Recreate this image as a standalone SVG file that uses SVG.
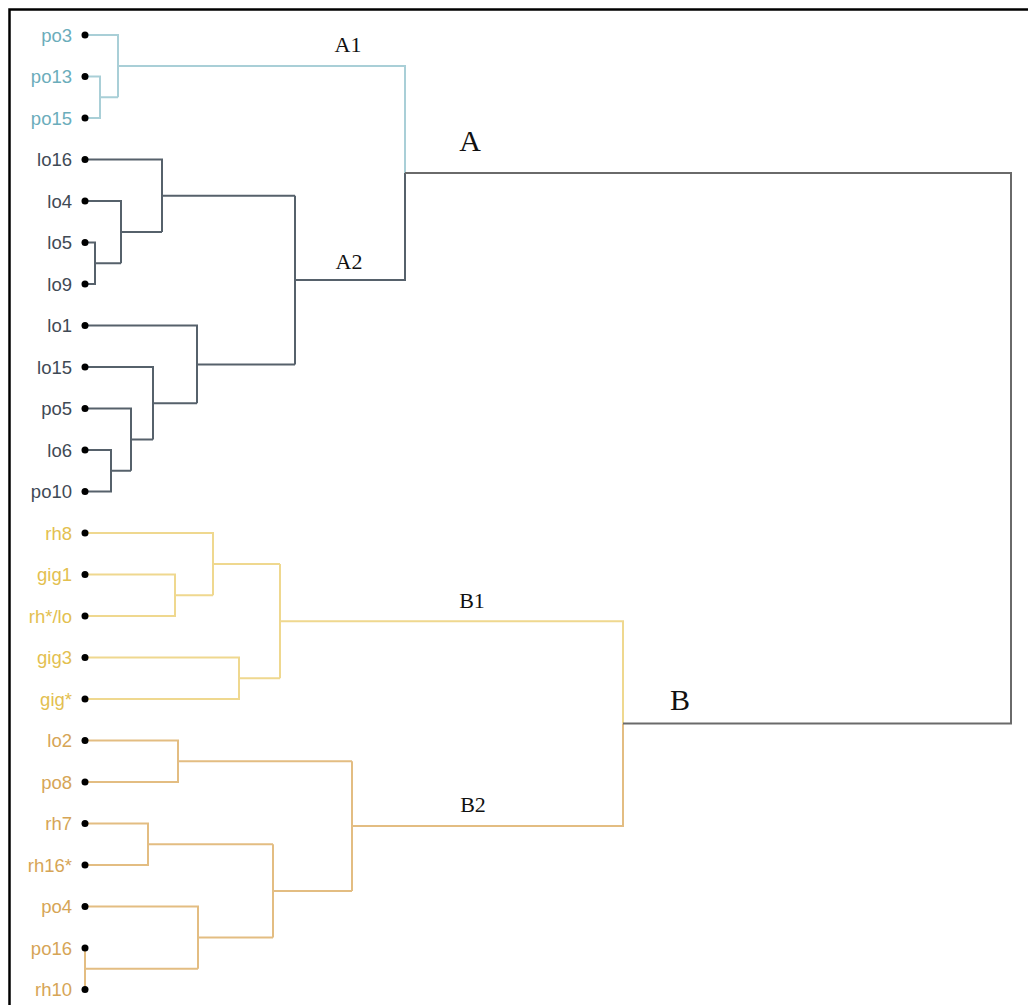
<svg xmlns="http://www.w3.org/2000/svg" width="1028" height="1005" viewBox="0 0 1028 1005">
<style>
.lbl{font-family:"Liberation Sans",Arial,sans-serif;font-size:18.5px;text-anchor:end}
.t1{fill:#6badbb}.t2{fill:#3f4a55}.t3{fill:#e3c04f}.t4{fill:#d6a556}
.big{font-family:"Liberation Serif","Times New Roman",serif;fill:#111;text-anchor:middle}
.e{fill:none;stroke-width:2}
.c1{stroke:#a9cfd7}.c2{stroke:#56616b}.c3{stroke:#efd88f}.c4{stroke:#e3bd82}.c0{stroke:#6a6a6a}
.dot{fill:#000}
</style>
<rect width="1028" height="1005" fill="#fff"/>
<path d="M9.5 1005 V9.5 H1028" fill="none" stroke="#000" stroke-width="2.5"/>
<g id="connectors">
<path class="e c1" d="M85 35 H118 V97.25 M85 76.5 H100 V118 H85 M100 97.25 H118 M118 66.1 H405 V173.1"/>
<path class="e c2" d="M85 242.5 H95 V284 H85 M95 263.25 H121 M85 201 H121 V263.25 M121 232.1 H162 M85 159.5 H162 V232.1 M162 195.8 H295"/>
<path class="e c2" d="M85 450 H111 V491.5 H85 M111 470.75 H131 M85 408.5 H131 V470.75 M131 439.6 H153 M85 367 H153 V439.6 M153 403.3 H197 M85 325.5 H197 V403.3 M197 364.4 H295"/>
<path class="e c2" d="M295 195.8 V364.4 M295 280.1 H405 V173.1"/>
<path class="e c3" d="M85 574.5 H175 V616 H85 M175 595.25 H213 M85 533 H213 V595.25 M213 564.1 H280 M85 657.5 H239 V699 H85 M239 678.25 H280 M280 564.1 V678.25 M280 621.2 H623 V723.6"/>
<path class="e c4" d="M85 740.5 H178 V782 H85 M178 761.25 H352 M85 823.5 H148 V865 H85 M148 844.25 H273 M85 948 V989.5 M85 968.75 H198 M85 906.5 H198 V968.75 M198 937.6 H273 M273 844.25 V937.6 M273 890.9 H352 M352 761.25 V890.9 M352 826.1 H623 V723.6"/>
<path class="e c0" d="M405 173.1 H1011 V723.6 H623"/>
</g>
<g id="po3"><text class="lbl t1" x="72" y="41.5">po3</text><circle class="dot" cx="85" cy="35" r="3.5"/></g>
<g id="po13"><text class="lbl t1" x="72" y="83">po13</text><circle class="dot" cx="85" cy="76.5" r="3.5"/></g>
<g id="po15"><text class="lbl t1" x="72" y="124.5">po15</text><circle class="dot" cx="85" cy="118" r="3.5"/></g>
<g id="lo16"><text class="lbl t2" x="72" y="166">lo16</text><circle class="dot" cx="85" cy="159.5" r="3.5"/></g>
<g id="lo4"><text class="lbl t2" x="72" y="207.5">lo4</text><circle class="dot" cx="85" cy="201" r="3.5"/></g>
<g id="lo5"><text class="lbl t2" x="72" y="249">lo5</text><circle class="dot" cx="85" cy="242.5" r="3.5"/></g>
<g id="lo9"><text class="lbl t2" x="72" y="290.5">lo9</text><circle class="dot" cx="85" cy="284" r="3.5"/></g>
<g id="lo1"><text class="lbl t2" x="72" y="332">lo1</text><circle class="dot" cx="85" cy="325.5" r="3.5"/></g>
<g id="lo15"><text class="lbl t2" x="72" y="373.5">lo15</text><circle class="dot" cx="85" cy="367" r="3.5"/></g>
<g id="po5"><text class="lbl t2" x="72" y="415">po5</text><circle class="dot" cx="85" cy="408.5" r="3.5"/></g>
<g id="lo6"><text class="lbl t2" x="72" y="456.5">lo6</text><circle class="dot" cx="85" cy="450" r="3.5"/></g>
<g id="po10"><text class="lbl t2" x="72" y="498">po10</text><circle class="dot" cx="85" cy="491.5" r="3.5"/></g>
<g id="rh8"><text class="lbl t3" x="72" y="539.5">rh8</text><circle class="dot" cx="85" cy="533" r="3.5"/></g>
<g id="gig1"><text class="lbl t3" x="72" y="581">gig1</text><circle class="dot" cx="85" cy="574.5" r="3.5"/></g>
<g id="rhlo"><text class="lbl t3" x="72" y="622.5">rh*/lo</text><circle class="dot" cx="85" cy="616" r="3.5"/></g>
<g id="gig3"><text class="lbl t3" x="72" y="664">gig3</text><circle class="dot" cx="85" cy="657.5" r="3.5"/></g>
<g id="gigstar"><text class="lbl t3" x="72" y="705.5">gig*</text><circle class="dot" cx="85" cy="699" r="3.5"/></g>
<g id="lo2"><text class="lbl t4" x="72" y="747">lo2</text><circle class="dot" cx="85" cy="740.5" r="3.5"/></g>
<g id="po8"><text class="lbl t4" x="72" y="788.5">po8</text><circle class="dot" cx="85" cy="782" r="3.5"/></g>
<g id="rh7"><text class="lbl t4" x="72" y="830">rh7</text><circle class="dot" cx="85" cy="823.5" r="3.5"/></g>
<g id="rh16star"><text class="lbl t4" x="72" y="871.5">rh16*</text><circle class="dot" cx="85" cy="865" r="3.5"/></g>
<g id="po4"><text class="lbl t4" x="72" y="913">po4</text><circle class="dot" cx="85" cy="906.5" r="3.5"/></g>
<g id="po16"><text class="lbl t4" x="72" y="954.5">po16</text><circle class="dot" cx="85" cy="948" r="3.5"/></g>
<g id="rh10"><text class="lbl t4" x="72" y="996">rh10</text><circle class="dot" cx="85" cy="989.5" r="3.5"/></g>
<g id="A1"><text class="big" x="348" y="52" font-size="22">A1</text></g>
<g id="A2"><text class="big" x="349" y="269" font-size="22">A2</text></g>
<g id="A"><text class="big" x="470" y="151" font-size="30">A</text></g>
<g id="B1"><text class="big" x="472" y="608" font-size="22">B1</text></g>
<g id="B2"><text class="big" x="473" y="812" font-size="22">B2</text></g>
<g id="B"><text class="big" x="680" y="710" font-size="30">B</text></g>
</svg>
